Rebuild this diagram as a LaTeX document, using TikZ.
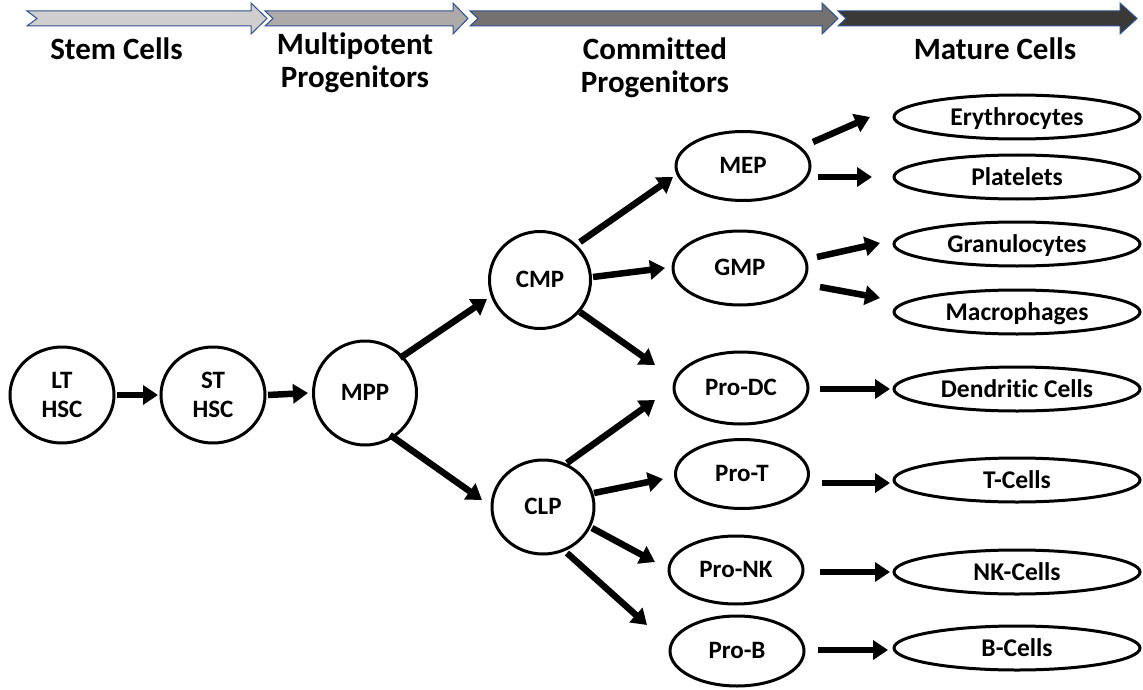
\documentclass[tikz,border=0pt]{standalone}
\usepackage{fontspec}
\setmainfont{Carlito}[Ligatures=NoCommon]
\usetikzlibrary{arrows.meta,shapes.geometric}
\definecolor{bandA}{HTML}{D0CECE}
\definecolor{bandB}{HTML}{AEAAAA}
\definecolor{bandC}{HTML}{767171}
\definecolor{bandD}{HTML}{3B3838}
\definecolor{bandline}{HTML}{2F528F}
\begin{document}
\begin{tikzpicture}[x=1pt,y=-1pt,
  hdr/.style={font=\fontsize{31}{33}\selectfont\bfseries, anchor=base, inner sep=0pt},
  cell/.style={draw, line width=3pt, ellipse, inner sep=0pt, font=\fontsize{25}{29}\selectfont\bfseries},
  one/.style={text height=15.8pt, text depth=0pt},
  mat/.style={draw, line width=3pt, ellipse, inner sep=0pt, minimum width=246pt, minimum height=44pt,
              font=\fontsize{25.5}{29}\selectfont\bfseries, text height=16.1pt, text depth=0pt},
  conn/.style={line width=6.5pt, -{Triangle[length=15pt,width=19pt]}},
  band/.style={draw=bandline, line width=1pt, line join=miter}
]
\useasboundingbox (0,0) rectangle (1143,690);

% stage bands
\path[band, fill=bandA] (27,11) -- (251,11) -- (251,3) -- (267,18.5) -- (251,34) -- (251,26) -- (27,26) -- (37,18.5) -- cycle;
\path[band, fill=bandB] (265,11) -- (453,11) -- (453,3) -- (468,18.5) -- (453,34) -- (453,26) -- (265,26) -- (273,18.5) -- cycle;
\path[band, fill=bandC] (470,11) -- (822,11) -- (822,3) -- (838,18.5) -- (822,34) -- (822,26) -- (470,26) -- (478,18.5) -- cycle;
\path[band, fill=bandD] (838,11) -- (1120,11) -- (1120,3) -- (1137,18.5) -- (1120,34) -- (1120,26) -- (838,26) -- (846,18.5) -- cycle;

% headers
\node[hdr] (h1) at (116.5,60) {Stem Cells};
\node[hdr] (h2a) at (355,55) {Multipotent};
\node[hdr] (h2b) at (355,88) {Progenitors};
\node[hdr] (h3a) at (655,60) {Committed};
\node[hdr] (h3b) at (655,93) {Progenitors};
\node[hdr] (h4) at (995,60) {Mature Cells};

% stem and progenitor cells
\node[cell, align=center, minimum width=104pt, minimum height=96pt] (LT) at (62,395) {LT\\HSC};
\node[cell, align=center, minimum width=104pt, minimum height=96pt] (ST) at (213,395) {ST\\HSC};
\node[cell, one, minimum width=103pt, minimum height=104pt] (MPP) at (365,393) {MPP};
\node[cell, one, minimum width=101pt, minimum height=97pt] (CMP) at (540,280) {CMP};
\node[cell, one, minimum width=102pt, minimum height=94pt] (CLP) at (543,507) {CLP};
\node[cell, one, minimum width=134pt, minimum height=69pt] (MEP) at (743,166) {MEP};
\node[cell, one, minimum width=134pt, minimum height=74pt] (GMP) at (740,268) {GMP};
\node[cell, one, minimum width=134pt, minimum height=72pt] (ProDC) at (741,388) {Pro-DC};
\node[cell, one, minimum width=133pt, minimum height=69pt] (ProT) at (742,474) {Pro-T};
\node[cell, one, minimum width=134pt, minimum height=68pt] (ProNK) at (736,570) {Pro-NK};
\node[cell, one, minimum width=134pt, minimum height=70pt] (ProB) at (737,651) {Pro-B};

% mature cells
\node[mat] (Ery) at (1017,117) {Erythrocytes};
\node[mat] (Pla) at (1017,177) {Platelets};
\node[mat] (Gra) at (1017,244) {Granulocytes};
\node[mat] (Mac) at (1017,312) {Macrophages};
\node[mat] (Den) at (1017,389) {Dendritic Cells};
\node[mat] (TC) at (1017,480) {T-Cells};
\node[mat] (NK) at (1017,572) {NK-Cells};
\node[mat] (BC) at (1017,648) {B-Cells};

% connectors
\draw[conn] ([shift={(55,0)}]LT.center) -- ([shift={(-55,0)}]ST.center);
\draw[conn] ([shift={(55,0)}]ST.center) -- ([shift={(-57,0)}]MPP.center);
\draw[conn] ([shift={(35,-35)}]MPP.center) -- ([shift={(-53,19)}]CMP.center);
\draw[conn] ([shift={(25,42)}]MPP.center) -- ([shift={(-61,-7)}]CLP.center);
\draw[conn] ([shift={(40,-38)}]CMP.center) -- ([shift={(-70,11)}]MEP.center);
\draw[conn] ([shift={(53,-3)}]CMP.center) -- ([shift={(-75,0)}]GMP.center);
\draw[conn] ([shift={(40,32)}]CMP.center) -- ([shift={(-86,-23)}]ProDC.center);
\draw[conn] ([shift={(24,-44)}]CLP.center) -- ([shift={(-86,12)}]ProDC.center);
\draw[conn] ([shift={(51,-14)}]CLP.center) -- ([shift={(-79,5)}]ProT.center);
\draw[conn] ([shift={(49,21)}]CLP.center) -- ([shift={(-81,-8)}]ProNK.center);
\draw[conn] ([shift={(24,46)}]CLP.center) -- ([shift={(-90,-26)}]ProB.center);
\draw[conn] ([shift={(70,-24)}]MEP.center) -- ([shift={(-147,0)}]Ery.center);
\draw[conn] ([shift={(75,11)}]MEP.center) -- ([shift={(-145,0)}]Pla.center);
\draw[conn] ([shift={(77,-11)}]GMP.center) -- ([shift={(-137,-1)}]Gra.center);
\draw[conn] ([shift={(80,19)}]GMP.center) -- ([shift={(-137,-14)}]Mac.center);
\draw[conn] ([shift={(79,1)}]ProDC.center) -- ([shift={(-127,0)}]Den.center);
\draw[conn] ([shift={(80,9)}]ProT.center) -- ([shift={(-127,3)}]TC.center);
\draw[conn] ([shift={(84,2)}]ProNK.center) -- ([shift={(-127,0)}]NK.center);
\draw[conn] ([shift={(81,-1)}]ProB.center) -- ([shift={(-129,2)}]BC.center);
\end{tikzpicture}
\end{document}
